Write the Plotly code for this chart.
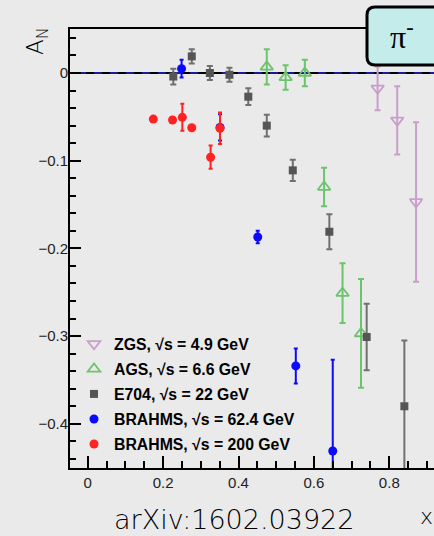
import plotly.graph_objects as go

# ---------------- data ----------------
zgs_x = [0.769, 0.821, 0.871]
zgs_y = [-0.0175, -0.054, -0.147]
zgs_e = [0.025, 0.039, 0.091]

ags_x = [0.475, 0.525, 0.576, 0.627, 0.676, 0.725]
ags_y = [0.007, -0.005, 0.000, -0.130, -0.251, -0.297]
ags_e = [0.020, 0.014, 0.015, 0.022, 0.034, 0.062]

e704_x = [0.227, 0.276, 0.324, 0.376, 0.426, 0.475, 0.544, 0.641, 0.740, 0.840]
e704_y = [-0.004, 0.019, 0.000, -0.002, -0.027, -0.060, -0.111, -0.181, -0.301, -0.380]
e704_e = [0.009, 0.008, 0.008, 0.008, 0.0095, 0.0125, 0.012, 0.020, 0.038, 0.075]

b62_x = [0.249, 0.351, 0.451, 0.552, 0.650]
b62_y = [0.005, -0.062, -0.187, -0.334, -0.431]
b62_e = [0.010, 0.015, 0.007, 0.020, 0.104]

b200_x = [0.174, 0.225, 0.251, 0.276, 0.326, 0.351]
b200_y = [-0.0525, -0.0536, -0.0505, -0.0624, -0.096, -0.063]
b200_e = [0.003, 0.003, 0.0154, 0.003, 0.0133, 0.018]

names = ["ZGS, √s = 4.9 GeV", "AGS, √s = 6.6 GeV", "E704, √s = 22 GeV",
         "BRAHMS, √s = 62.4 GeV", "BRAHMS, √s = 200 GeV"]

xticks = [0, 0.2, 0.4, 0.6, 0.8]
xticklabels = ["0", "0.2", "0.4", "0.6", "0.8"]
yticks = [0, -0.1, -0.2, -0.3, -0.4]
yticklabels = ["0", "\u22120.1", "\u22120.2", "\u22120.3", "\u22120.4"]

# ---------------- figure ----------------
W, H = 434, 536
L, R, T, B = 70, 0, 29, 68
XR = [-0.047, 0.9186]
YR = [-0.4504, 0.0502]
BG = "#eaeaea"

ZGS_C = "#c89fcb"
AGS_C = "#6cc46c"
E704_C = "#555555"
E704_EC = "#707070"
B62_C = "#0a0aff"
B200_C = "#ff2222"

fig = go.Figure()

def add(x, y, e, name, sym, color, ecolor, size, lw, ew, grp):
    fig.add_trace(go.Scatter(
        x=x, y=y, mode="markers", name=name, legendgroup=grp,
        marker=dict(symbol=sym, color=color, size=size,
                    line=dict(width=lw, color=color)),
        error_y=dict(type="data", array=e, visible=True, color=ecolor,
                     thickness=2, width=ew),
        cliponaxis=True,
    ))

add(zgs_x, zgs_y, zgs_e, names[0], "triangle-down-open", ZGS_C, ZGS_C, 11, 1.8, 3, "g1")
add(ags_x, ags_y, ags_e, names[1], "triangle-up-open", AGS_C, AGS_C, 11, 1.8, 3, "g2")
add(e704_x, e704_y, e704_e, names[2], "square", E704_C, E704_EC, 8, 0, 3, "g3")
add(b62_x, b62_y, b62_e, names[3], "circle", B62_C, B62_C, 9, 0, 2, "g4")
add(b200_x, b200_y, b200_e, names[4], "circle", B200_C, B200_C, 9, 0, 2, "g5")

# zero line: blue + black dashed
shapes = [
    dict(type="line", xref="paper", yref="y", x0=0, x1=1, y0=0, y1=0,
         line=dict(color="#1a1aa0", width=2), layer="below"),
    dict(type="line", xref="paper", yref="y", x0=0, x1=1, y0=0, y1=0,
         line=dict(color="black", width=2, dash="8px,8px"), layer="below"),
]

# pi- box (rounded), in paper coords computed from pixel geometry
pw, ph = W - L - R, H - T - B
def px2x(px):
    return (px - L) / pw
def py2y(py):
    return (H - B - py) / ph
bx0, bx1, by0, by1, r = 367, 452, 7, 65, 8
path = (
    f"M {px2x(bx0 + r)},{py2y(by0)} L {px2x(bx1)},{py2y(by0)} "
    f"L {px2x(bx1)},{py2y(by1)} L {px2x(bx0 + r)},{py2y(by1)} "
    f"Q {px2x(bx0)},{py2y(by1)} {px2x(bx0)},{py2y(by1 - r)} "
    f"L {px2x(bx0)},{py2y(by0 + r)} "
    f"Q {px2x(bx0)},{py2y(by0)} {px2x(bx0 + r)},{py2y(by0)} Z"
)
shapes.append(dict(type="path", xref="paper", yref="paper", path=path,
                   fillcolor="#c4ecea", line=dict(color="black", width=3),
                   layer="above"))

def ann(text, px, py, font, angle=0):
    return dict(text=text, xref="paper", yref="paper", x=px2x(px), y=py2y(py),
                xanchor="center", yanchor="middle", showarrow=False,
                textangle=angle, font=font)

annotations = [
    ann("π<sup>-</sup>", 402, 35,
        dict(family="Liberation Serif, DejaVu Serif, serif", size=32, color="black")),
    ann("A<sub>N</sub>", 37, 41,
        dict(family="DejaVu Sans, Liberation Sans, Arial", size=23, color="black", weight=200), -90),
    ann("arXiv:1602.03922", 234, 519,
        dict(family="DejaVu Sans, Liberation Sans, Arial", size=27, color="black", weight=200)),
    ann("x", 426, 516,
        dict(family="DejaVu Sans, Liberation Sans, Arial", size=22, color="black", weight=200)),
]

fig.update_layout(
    width=W, height=H,
    margin=dict(l=L, r=R, t=T, b=B, pad=0),
    paper_bgcolor=BG, plot_bgcolor=BG,
    showlegend=True,
    legend=dict(x=0.011, xanchor="left", y=0.321, yanchor="top",
                bgcolor="rgba(0,0,0,0)", borderwidth=0, tracegroupgap=1.5,
                font=dict(family="Liberation Sans, Arial", size=15.8, color="black", weight="bold")),
    shapes=shapes,
    annotations=annotations,
    font=dict(family="Liberation Sans, Arial", size=15, color="#222222"),
)

fig.update_xaxes(
    range=XR, showgrid=False, zeroline=False,
    showline=True, linecolor="black", linewidth=2, mirror=True,
    tickmode="array", tickvals=xticks, ticktext=xticklabels,
    ticks="inside", ticklen=12, tickwidth=2, tickcolor="black",
    minor=dict(ticks="inside", dtick=0.05, tick0=0, ticklen=7, tickwidth=2, tickcolor="black"),
    tickfont=dict(size=15, color="#222222"),
)
fig.update_yaxes(
    range=YR, showgrid=False, zeroline=False,
    showline=True, linecolor="black", linewidth=2, mirror=False,
    tickmode="array", tickvals=yticks, ticktext=yticklabels,
    ticks="inside", ticklen=11, tickwidth=2, tickcolor="black",
    ticklabelstandoff=-3,
    minor=dict(ticks="inside", dtick=0.02, tick0=0, ticklen=6, tickwidth=2, tickcolor="black"),
    tickfont=dict(size=15, color="#222222"),
)

fig.write_html("out.html")
